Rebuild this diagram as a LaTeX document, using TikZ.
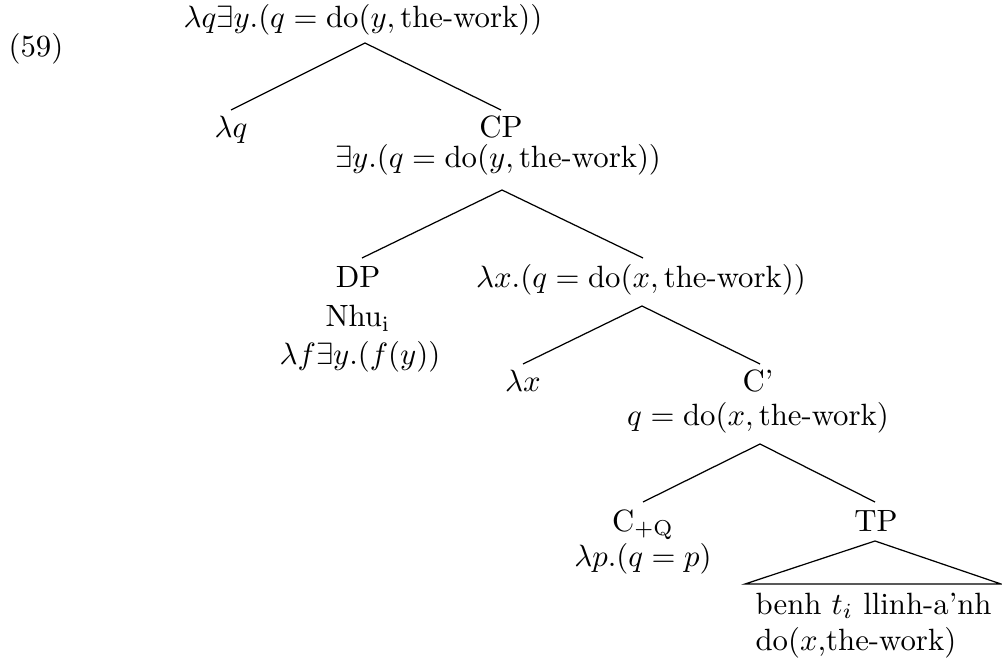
\documentclass[tikz,border=0pt]{standalone}
\usepackage{amsmath}
\tikzset{
  lbl/.style={inner sep=0pt, anchor=base},
  lblw/.style={inner sep=0pt, anchor=base west},
  branch/.style={draw=black, line width=0.4pt}
}
\begin{document}
\begin{tikzpicture}[x=0.325pt,y=-0.325pt]
\useasboundingbox (0,0) rectangle (1002,664);
% labels
\node[lblw] (ex) at (8,57) {(59)};
\node[lbl] (root) at (363,28) {$\lambda q\exists y.(q=\mathrm{do}(y,\text{the-work}))$};
\node[lbl] (lq) at (231,138) {$\lambda q$};
\node[lbl] (cp) at (501,138) {CP};
\node[lbl] (cpsem) at (498,168) {$\exists y.(q=\mathrm{do}(y,\text{the-work}))$};
\node[lbl] (dp) at (358,288) {DP};
\node[lbl] (nhu) at (358,327) {Nhu$_{\mathrm{i}}$};
\node[lbl] (dpsem) at (360,365) {$\lambda f\exists y.(f(y))$};
\node[lbl] (lxsem) at (641,288) {$\lambda x.(q=\mathrm{do}(x,\text{the-work}))$};
\node[lbl] (lx) at (523,392) {$\lambda x$};
\node[lbl] (cbar) at (758,392) {C’};
\node[lbl] (cbarsem) at (758,426) {$q=\mathrm{do}(x,\text{the-work})$};
\node[lbl] (cq) at (643,531) {C$_{+\mathrm{Q}}$};
\node[lbl] (cqsem) at (643,566) {$\lambda p.(q=p)$};
\node[lbl] (tp) at (876,531) {TP};
\node[lblw] (tpword) at (755,614) {benh $t_i$ llinh-a’nh};
\node[lblw] (tpsem) at (755,650) {do($x$,the-work)};
% branch points
\coordinate (rA) at (365,43);
\coordinate (rL) at (231,110);
\coordinate (rR) at (501,110);
\coordinate (cA) at (502,190);
\coordinate (cL) at (362,258);
\coordinate (cR) at (643,258);
\coordinate (xA) at (642,306);
\coordinate (xL) at (523,364);
\coordinate (xR) at (760,364);
\coordinate (bA) at (760,444);
\coordinate (bL) at (643,502);
\coordinate (bR) at (875,502);
\coordinate (tA) at (875,541);
\coordinate (tL) at (745,584);
\coordinate (tR) at (1001,584);
% branches
\draw[branch] (rL) -- (rA) -- (rR);
\draw[branch] (cL) -- (cA) -- (cR);
\draw[branch] (xL) -- (xA) -- (xR);
\draw[branch] (bL) -- (bA) -- (bR);
\draw[branch] (tA) -- (tL) -- (tR) -- cycle;
\end{tikzpicture}
\end{document}
